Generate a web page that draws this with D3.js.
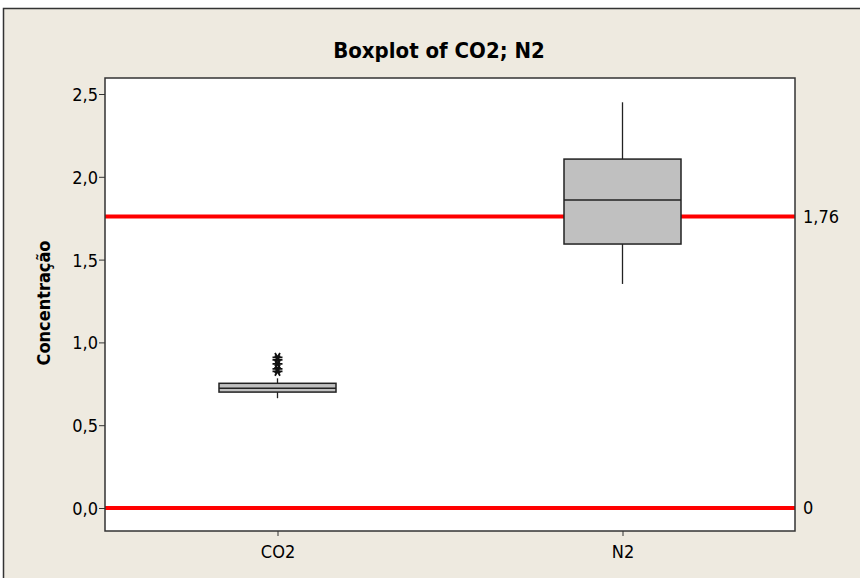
<!DOCTYPE html>
<html><head><meta charset="utf-8">
<script src="https://cdn.jsdelivr.net/npm/d3@7"></script>
<style>
html,body{margin:0;padding:0;background:#fff;}
svg{display:block;}
text{font-family:"DejaVu Sans Condensed","DejaVu Sans",sans-serif;fill:#000;}
</style></head>
<body>
<script>
const categories = ["CO2", "N2"];
const q1 = [0.70, 1.594];
const median = [0.723, 1.86];
const q3 = [0.753, 2.107];
const whiskerLow = [0.663, 1.353];
const whiskerHigh = [0.783, 2.45];
const outliersCO2 = [0.91, 0.895, 0.87, 0.84, 0.825];
const outliersN2 = [];
const refLines = [1.76, 0];
const refLabels = ["1,76", "0"];
const yTicks = [0, 0.5, 1.0, 1.5, 2.0, 2.5];

const W = 860, H = 578;
const m = {left:105, right:795, top:78, bottom:531};

const svg = d3.select("body").append("svg").attr("width", W).attr("height", H);
svg.append("rect").attr("x",0).attr("y",0).attr("width",W).attr("height",H).attr("fill","#fff");
svg.append("rect").attr("x",3.5).attr("y",8.5).attr("width",W+10).attr("height",H+10)
  .attr("fill","#EEEAE0").attr("stroke","#333").attr("stroke-width",1.5);

svg.append("rect").attr("x",m.left).attr("y",m.top).attr("width",m.right-m.left).attr("height",m.bottom-m.top)
  .attr("fill","#fff");

const y = d3.scaleLinear().domain([0, 2.5]).range([508, 94]);
const x = d3.scalePoint().domain(categories).range([m.left, m.right]).padding(0.5);
const boxW = 117;

const fmt = d => d3.format(".1f")(d).replace(".", ",");

// y axis
const yAxis = svg.append("g").attr("transform",`translate(${m.left},0)`)
  .call(d3.axisLeft(y).tickValues(yTicks).tickFormat(fmt).tickSize(6).tickSizeOuter(0));
yAxis.select(".domain").remove();
yAxis.selectAll("line").attr("stroke","#333");
yAxis.selectAll("text").attr("font-size",18).attr("x",-7).attr("dy","0.36em").attr("y",0);

// x axis
const xAxis = svg.append("g").attr("transform",`translate(0,${m.bottom})`)
  .call(d3.axisBottom(x).tickSize(5).tickSizeOuter(0));
xAxis.select(".domain").remove();
xAxis.selectAll("line").attr("stroke","#333");
xAxis.selectAll("text").attr("font-size",18).attr("y",14).attr("dy","0.71em");

// reference lines
svg.append("g").selectAll("line").data(refLines).join("line")
  .attr("x1",m.left).attr("x2",m.right).attr("y1",d=>y(d)).attr("y2",d=>y(d))
  .attr("stroke","#FF0000").attr("stroke-width",4);

// right labels
svg.append("g").selectAll("text").data(refLines).join("text")
  .attr("x",m.right+8).attr("y",d=>y(d)).attr("dy","0.36em").attr("font-size",18)
  .text((d,i)=>refLabels[i]);

// boxes
const g = svg.append("g");
categories.forEach((c,i)=>{
  const cx = x(c);
  g.append("line").attr("x1",cx).attr("x2",cx).attr("y1",y(whiskerHigh[i])).attr("y2",y(q3[i]))
    .attr("stroke","#222").attr("stroke-width",1.3);
  g.append("line").attr("x1",cx).attr("x2",cx).attr("y1",y(q1[i])).attr("y2",y(whiskerLow[i]))
    .attr("stroke","#222").attr("stroke-width",1.3);
  g.append("rect").attr("x",cx-boxW/2).attr("y",y(q3[i])).attr("width",boxW).attr("height",y(q1[i])-y(q3[i]))
    .attr("fill","#C0C0C0").attr("stroke","#222").attr("stroke-width",1.5);
  g.append("line").attr("x1",cx-boxW/2).attr("x2",cx+boxW/2).attr("y1",y(median[i])).attr("y2",y(median[i]))
    .attr("stroke","#222").attr("stroke-width",1.3);
  const outs = i===0 ? outliersCO2 : outliersN2;
  outs.forEach(v=>{
    const sym = d3.symbol().type(d3.symbolAsterisk).size(70);
    g.append("path").attr("d",sym()).attr("transform",`translate(${cx},${y(v)}) rotate(30)`)
      .attr("fill","none").attr("stroke","#111").attr("stroke-width",1.8);
  });
});

// plot border
svg.append("rect").attr("x",m.left).attr("y",m.top).attr("width",m.right-m.left).attr("height",m.bottom-m.top)
  .attr("fill","none").attr("stroke","#333").attr("stroke-width",1.5);

// title
svg.append("text").attr("x",(m.left+m.right)/2 - 11).attr("y",58).attr("text-anchor","middle")
  .attr("font-size",22).attr("font-weight","bold").text("Boxplot of CO2; N2");

// y label
svg.append("text").attr("transform",`translate(50,303) rotate(-90)`)
  .attr("text-anchor","middle").attr("font-size",18).attr("font-weight","bold").text("Concentração");
</script>
</body></html>
